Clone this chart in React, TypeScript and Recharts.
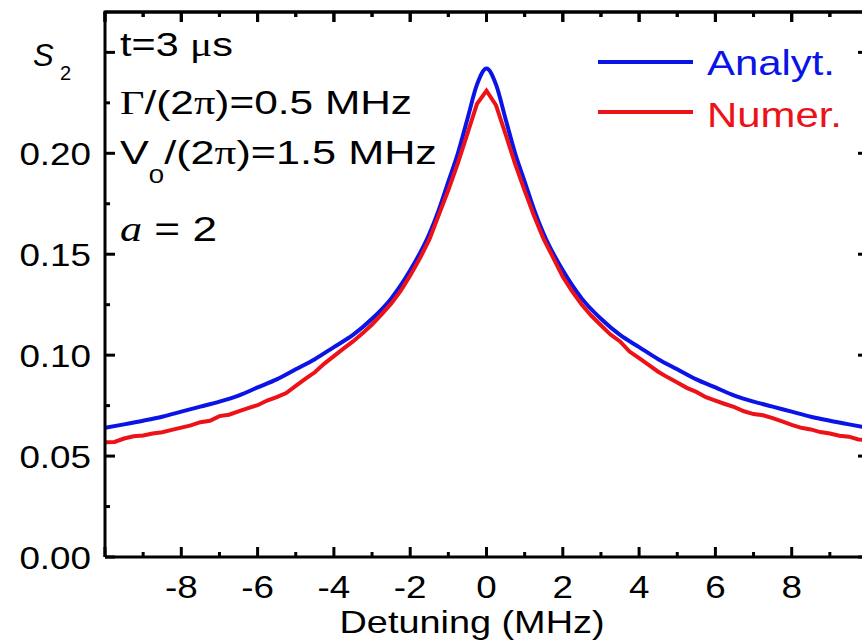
import React from "react";
import { LineChart, Line, XAxis, YAxis, ReferenceLine } from "recharts";

// detuning (MHz) and S2 for the analytic curve
const analytDetuning = [
  -10, -9.5, -9, -8.5, -8, -7.5, -7, -6.5, -6, -5.5, -5, -4.5, -4, -3.5, -3,
  -2.5, -2, -1.5, -1.25, -1, -0.75, -0.5, -0.25, 0, 0.25, 0.5, 0.75, 1, 1.25,
  1.5, 2, 2.5, 3, 3.5, 4, 4.5, 5, 5.5, 6, 6.5, 7, 7.5, 8, 8.5, 9, 9.5, 10,
];
const analytS2 = [
  0.064, 0.0657, 0.0675, 0.0695, 0.072, 0.0745, 0.077, 0.08, 0.084, 0.088,
  0.093, 0.098, 0.104, 0.11, 0.118, 0.128, 0.142, 0.16, 0.172, 0.186, 0.2,
  0.217, 0.234, 0.242, 0.234, 0.217, 0.2, 0.186, 0.172, 0.16, 0.142, 0.128,
  0.118, 0.11, 0.104, 0.098, 0.093, 0.088, 0.084, 0.08, 0.077, 0.0745, 0.072,
  0.0695, 0.0675, 0.0657, 0.064,
];

// numerical curve, sampled every 0.25 MHz from -10 to 10
const numerDetuning = [
  -10, -9.75, -9.5, -9.25, -9, -8.75, -8.5, -8.25, -8, -7.75, -7.5, -7.25, -7,
  -6.75, -6.5, -6.25, -6, -5.75, -5.5, -5.25, -5, -4.75, -4.5, -4.25, -4,
  -3.75, -3.5, -3.25, -3, -2.75, -2.5, -2.25, -2, -1.75, -1.5, -1.25, -1,
  -0.75, -0.5, -0.25, 0, 0.25, 0.5, 0.75, 1, 1.25, 1.5, 1.75, 2, 2.25, 2.5,
  2.75, 3, 3.25, 3.5, 3.75, 4, 4.25, 4.5, 4.75, 5, 5.25, 5.5, 5.75, 6, 6.25,
  6.5, 6.75, 7, 7.25, 7.5, 7.75, 8, 8.25, 8.5, 8.75, 9, 9.25, 9.5, 9.75, 10,
];
const numerS2 = [
  0.0568, 0.057, 0.0587, 0.0598, 0.0602, 0.0612, 0.0618, 0.063, 0.0641,
  0.0652, 0.0668, 0.0675, 0.0698, 0.0705, 0.0722, 0.0738, 0.0752, 0.0775,
  0.0792, 0.0812, 0.0848, 0.0882, 0.0915, 0.0958, 0.0995, 0.1032, 0.1068,
  0.1108, 0.1152, 0.1202, 0.1255, 0.1318, 0.1395, 0.1478, 0.1572, 0.1695,
  0.1818, 0.1952, 0.2098, 0.2245, 0.231, 0.2238, 0.2095, 0.1948, 0.1815,
  0.1688, 0.1575, 0.1482, 0.1388, 0.1315, 0.125, 0.1195, 0.1148, 0.1102,
  0.1068, 0.1018, 0.0985, 0.0952, 0.0918, 0.089, 0.0865, 0.0838, 0.0818,
  0.0792, 0.0775, 0.0758, 0.0742, 0.0722, 0.0708, 0.0702, 0.0688, 0.0672,
  0.0655, 0.064, 0.0632, 0.0619, 0.0612, 0.0601, 0.0596, 0.0582, 0.0578,
];

const xTicks = [-10, -9, -8, -7, -6, -5, -4, -3, -2, -1, 0, 1, 2, 3, 4, 5, 6, 7, 8, 9, 10];
const xLabels = [-8, -6, -4, -2, 0, 2, 4, 6, 8];
const yTicks = [0, 0.025, 0.05, 0.075, 0.1, 0.125, 0.15, 0.175, 0.2, 0.225, 0.25];
const yLabels = [0, 0.05, 0.1, 0.15, 0.2];
const xDomain = [-10, 10];
const yDomain = [0, 0.27];

const analytData = analytDetuning.map((x, i) => ({ x, y: analytS2[i] }));
const numerData = numerDetuning.map((x, i) => ({ x, y: numerS2[i] }));

const FONT = "'Liberation Sans', Arial, sans-serif";
const SERIF = "'Liberation Serif', 'Times New Roman', serif";
const BLUE = "#0a14e6";
const RED = "#ec1218";

// frame of the plot area
const LEFT = 105;
const TOP = 12;
const RIGHT = 868;
const BOTTOM = 557;
const W = 880;
const H = 642;

const near = (list: number[], v: number) => list.some((m) => Math.abs(m - v) < 1e-9);
const isMajorX = (v: number) => Math.abs(v % 2) < 1e-9;
const isMajorY = (v: number) => Math.abs(v * 20 - Math.round(v * 20)) < 1e-9;

// bottom ticks also mirror onto the top frame
function XTick(props: any) {
  const { x, payload } = props;
  const v = payload.value;
  const len = isMajorX(v) ? 10 : 5;
  return (
    <g>
      <line x1={x} x2={x} y1={BOTTOM} y2={BOTTOM - len} stroke="#000" strokeWidth={3} />
      <line x1={x} x2={x} y1={TOP} y2={TOP + len} stroke="#000" strokeWidth={3} />
      {near(xLabels, v) && (
        <text
          transform={`translate(${x},${BOTTOM + 41}) scale(1.15,1)`}
          textAnchor="middle"
          fontFamily={FONT}
          fontSize={32}
          fill="#000"
        >
          {v}
        </text>
      )}
    </g>
  );
}

// left ticks also mirror onto the right frame
function YTick(props: any) {
  const { y, payload } = props;
  const v = payload.value;
  const len = isMajorY(v) ? 10 : 5;
  return (
    <g>
      <line x1={LEFT} x2={LEFT + len} y1={y} y2={y} stroke="#000" strokeWidth={3} />
      <line x1={RIGHT} x2={RIGHT - len} y1={y} y2={y} stroke="#000" strokeWidth={3} />
      {near(yLabels, v) && (
        <text
          transform={`translate(${LEFT - 14},${y + 11.5}) scale(1.15,1)`}
          textAnchor="end"
          fontFamily={FONT}
          fontSize={32}
          fill="#000"
        >
          {v.toFixed(2)}
        </text>
      )}
    </g>
  );
}

// top frame drawn on the overlay as well (same linear frame as the plot)
const topTickX = (v: number) =>
  LEFT + ((v - xDomain[0]) / (xDomain[1] - xDomain[0])) * (RIGHT - LEFT);

const axisLine = { stroke: "#000", strokeWidth: 3 };

export default function App() {
  return (
    <div
      style={{
        position: "absolute",
        left: 0,
        top: 0,
        width: 862,
        height: 642,
        overflow: "hidden",
        background: "#fff",
      }}
    >
      <LineChart
        width={W}
        height={H}
        margin={{ top: TOP, right: W - RIGHT, bottom: 0, left: 0 }}
      >
        <XAxis
          dataKey="x"
          type="number"
          domain={xDomain}
          ticks={xTicks}
          interval={0}
          allowDataOverflow
          height={H - BOTTOM}
          tickLine={false}
          tick={XTick}
          axisLine={axisLine}
        />
        <YAxis
          type="number"
          domain={yDomain}
          ticks={yTicks}
          interval={0}
          allowDataOverflow
          width={LEFT}
          tickLine={false}
          tick={YTick}
          axisLine={axisLine}
        />
        <ReferenceLine y={yDomain[1]} stroke="#000" strokeWidth={3} />
        <Line
          data={analytData}
          dataKey="y"
          type="monotone"
          stroke={BLUE}
          strokeWidth={4}
          dot={false}
          isAnimationActive={false}
        />
        <Line
          data={numerData}
          dataKey="y"
          type="linear"
          stroke={RED}
          strokeWidth={4}
          dot={false}
          isAnimationActive={false}
        />
      </LineChart>
      <svg
        width={862}
        height={642}
        style={{ position: "absolute", left: 0, top: 0, pointerEvents: "none" }}
      >
        <line x1={LEFT - 1.5} x2={RIGHT} y1={TOP} y2={TOP} stroke="#000" strokeWidth={3} />
        {xTicks.map((v) => (
          <line
            key={v}
            x1={topTickX(v)}
            x2={topTickX(v)}
            y1={TOP}
            y2={TOP + (isMajorX(v) ? 10 : 5)}
            stroke="#000"
            strokeWidth={3}
          />
        ))}
        <g fontFamily={FONT} fill="#000">
          <text x={33} y={66} fontSize={31} fontStyle="italic">S</text>
          <text x={60} y={80} fontSize={20}>2</text>
          <text x={120} y={56} fontSize={33} textLength={113} lengthAdjust="spacingAndGlyphs">
            t=3 <tspan fontFamily={SERIF}>μ</tspan>s
          </text>
          <text x={120} y={114} fontSize={33} textLength={292} lengthAdjust="spacingAndGlyphs">
            <tspan fontFamily={SERIF}>Γ</tspan>/(2<tspan fontFamily={SERIF}>π</tspan>)=0.5 MHz
          </text>
          <text x={120} y={164} fontSize={33} textLength={317} lengthAdjust="spacingAndGlyphs">
            V<tspan fontSize={21} dy={19}>0</tspan>
            <tspan dy={-19}>/(2</tspan>
            <tspan fontFamily={SERIF}>π</tspan>)=1.5 MHz
          </text>
          <text x={120} y={241} fontSize={35} textLength={97} lengthAdjust="spacingAndGlyphs">
            <tspan fontFamily={SERIF} fontStyle="italic">a</tspan> = 2
          </text>
          <text x={472} y={633} fontSize={32} textAnchor="middle" textLength={265} lengthAdjust="spacingAndGlyphs">
            Detuning (MHz)
          </text>
        </g>
        <line x1={598} x2={693} y1={62} y2={62} stroke={BLUE} strokeWidth={4} />
        <text x={707} y={75} fontFamily={FONT} fontSize={35} fill={BLUE} textLength={128} lengthAdjust="spacingAndGlyphs">
          Analyt.
        </text>
        <line x1={598} x2={693} y1={112} y2={112} stroke={RED} strokeWidth={4} />
        <text x={707} y={127} fontFamily={FONT} fontSize={35} fill={RED} textLength={135} lengthAdjust="spacingAndGlyphs">
          Numer.
        </text>
      </svg>
    </div>
  );
}
